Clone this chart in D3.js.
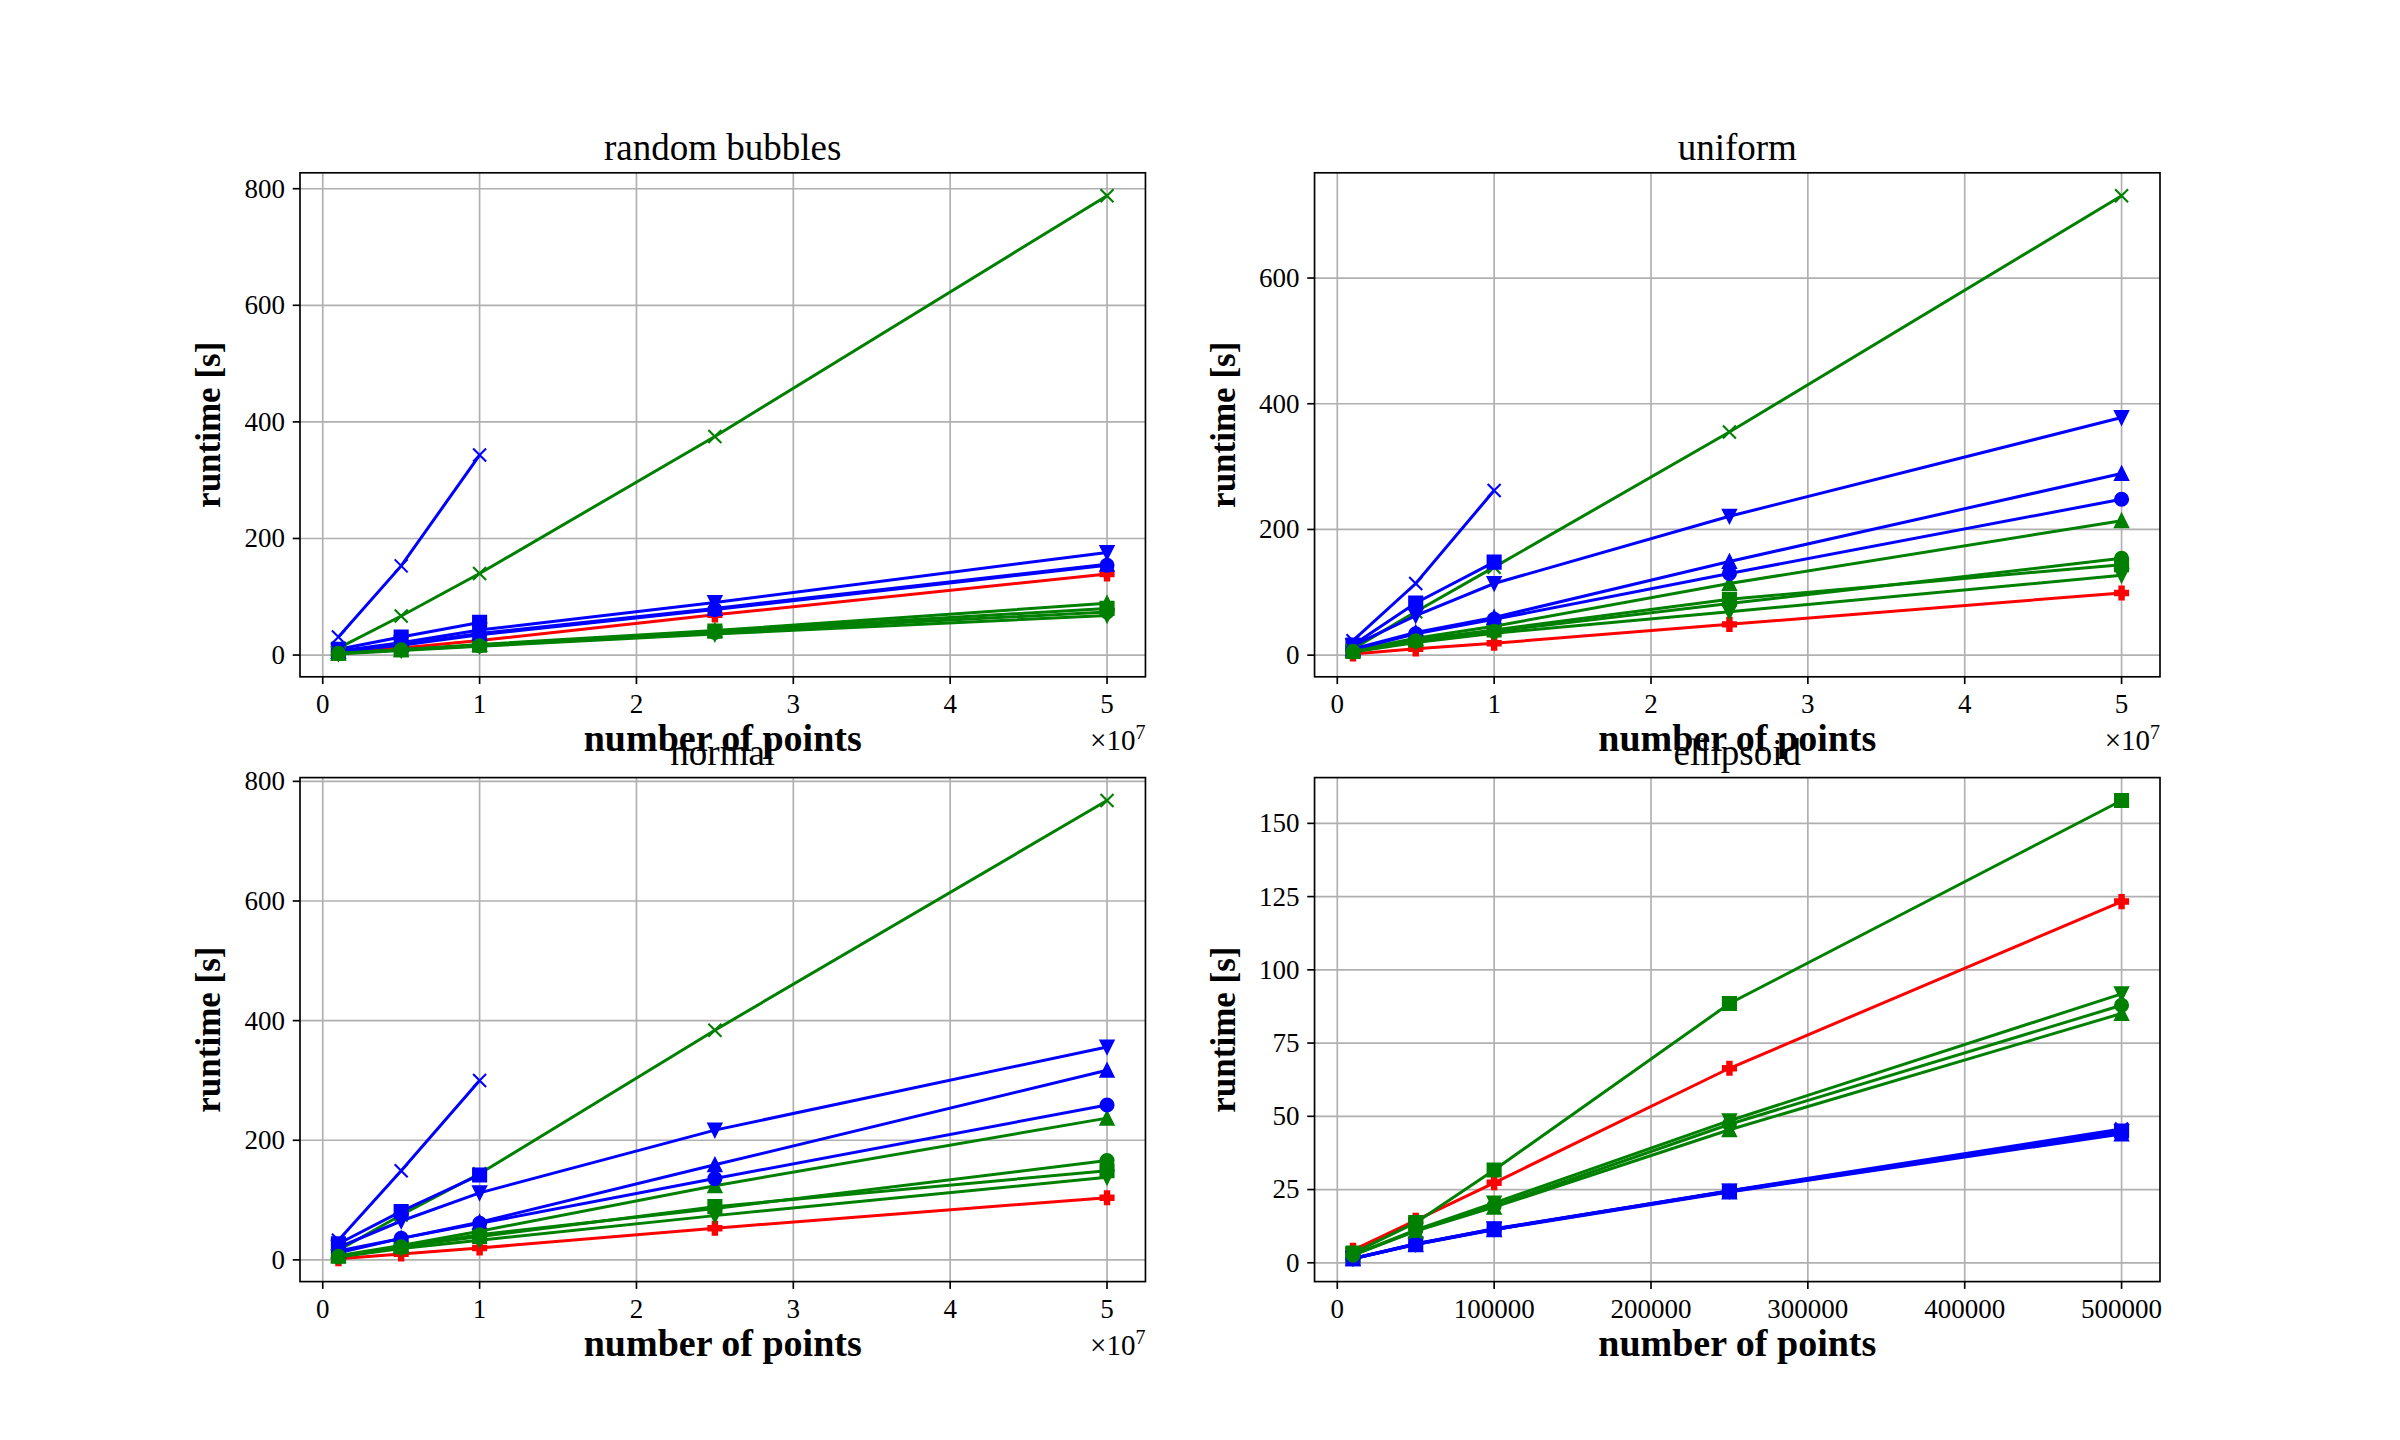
<!DOCTYPE html>
<html lang="en">
<head>
<meta charset="UTF-8">
<title>Runtime vs number of points</title>
<style>
  body { margin: 0; background: #fff; }
  svg { display: block; }
  text { font-family: 'Liberation Serif', 'Times New Roman', serif; fill: #000; }
  .tick-label { font-size: 27px; }
  .title { font-size: 37px; }
  .axis-label { font-size: 38px; font-weight: bold; }
  .y-label { font-size: 35px; font-weight: bold; }
</style>
</head>
<body>
<svg id="chart"></svg>
<script src="https://d3js.org/d3.v7.min.js"></script>
<script>
// x values (number of points)
const bigN = [1e6, 5e6, 1e7, 2.5e7, 5e7];
const smallN = [1e4, 5e4, 1e5, 2.5e5, 5e5];

const titles = ["random bubbles", "uniform", "normal", "ellipsoid"];

// series order (also the drawing order)
const seriesKeys = ["red", "blueX", "greenX", "blueS", "greenS", "blueV", "greenV", "blueUp", "greenUp", "blueO", "greenO"];
const seriesColor = ["#ff0000", "#0000ff", "#008000", "#0000ff", "#008000", "#0000ff", "#008000", "#0000ff", "#008000", "#0000ff", "#008000"];
const seriesMarker = ["P", "x", "x", "s", "s", "v", "v", "^", "^", "o", "o"];

// runtime [s], one row per series in seriesKeys order (null = no run)
const bubbles = [
  [3, 12, 25, 69, 139],
  [31, 153, 343],
  [12, 67, 140, 375, 788],
  [10, 31, 56],
  [3, 9, 17, 41, 80],
  [7, 21, 43, 90, 176],
  [2, 8, 15, 36, 68],
  [6, 18, 37, 80, 156],
  [3, 9, 18, 42, 89],
  [6, 17, 35, 78, 154],
  [3, 9, 16, 39, 74]
];
const uniform = [
  [2, 10, 19, 49, 99],
  [23, 114, 262],
  [10, 69, 140, 355, 731],
  [16, 83, 148],
  [6, 24, 40, 89, 144],
  [15, 63, 114, 221, 378],
  [5, 20, 35, 69, 127],
  [10, 36, 60, 149, 289],
  [7, 27, 46, 114, 214],
  [9, 34, 57, 130, 248],
  [6, 23, 38, 82, 154]
];
const normal = [
  [2, 10, 20, 53, 104],
  [33, 149, 300],
  [16, 75, 144, 384, 768],
  [27, 81, 142],
  [6, 22, 39, 89, 149],
  [21, 65, 112, 217, 356],
  [5, 19, 33, 74, 138],
  [15, 36, 63, 159, 317],
  [7, 24, 48, 124, 237],
  [12, 36, 61, 136, 259],
  [6, 22, 42, 86, 166]
];
const ellipsoid = [
  [4.3, 14.5, 27.3, 66.4, 123.3],
  [1.5, 6.5, 11.5, 24.6, 45.7],
  null,
  [1.4, 6.3, 11.4, 24.4, 45.0],
  [3.3, 13.7, 31.7, 88.5, 157.8],
  [1.5, 6.4, 11.6, 24.5, 44.8],
  [2.7, 11.2, 20.4, 48.5, 91.8],
  [1.4, 6.2, 11.3, 24.2, 44.0],
  [2.6, 10.8, 19.0, 45.4, 85.1],
  [1.4, 6.3, 11.4, 24.3, 44.5],
  [2.6, 11.0, 19.4, 47.3, 87.9]
];

// ticks
const bigTicks = [0, 1e7, 2e7, 3e7, 4e7, 5e7];
const smallTicks = [0, 1e5, 2e5, 3e5, 4e5, 5e5];
const yTicksBubbles = [0, 200, 400, 600, 800];
const yTicksUniform = [0, 200, 400, 600];
const yTicksNormal = [0, 200, 400, 600, 800];
const yTicksEllipsoid = [0, 25, 50, 75, 100, 125, 150];

const panels = [
  {title: titles[0], xs: bigN, rows: bubbles, xTicks: bigTicks, yTicks: yTicksBubbles, offset: true},
  {title: titles[1], xs: bigN, rows: uniform, xTicks: bigTicks, yTicks: yTicksUniform, offset: true},
  {title: titles[2], xs: bigN, rows: normal, xTicks: bigTicks, yTicks: yTicksNormal, offset: true},
  {title: titles[3], xs: smallN, rows: ellipsoid, xTicks: smallTicks, yTicks: yTicksEllipsoid, offset: false}
];

const W = 2400, H = 1440;
const axW = 0.775 * W / 2.2;
const axH = 0.77 * H / 2.2;
const lw = 1.67;      // spine / grid width
const ms = 13;        // marker size

const svg = d3.select("#chart").attr("width", W).attr("height", H);
svg.append("rect").attr("width", W).attr("height", H).attr("fill", "#fff");

function markerPath(m) {
  const r = ms / 2;
  const a = r / 3;
  if (m === "o") return `M${r},0A${r},${r} 0 1,1 ${-r},0A${r},${r} 0 1,1 ${r},0Z`;
  if (m === "s") return `M${-r},${-r}H${r}V${r}H${-r}Z`;
  if (m === "^") return `M0,${-r}L${r},${r}L${-r},${r}Z`;
  if (m === "v") return `M0,${r}L${r},${-r}L${-r},${-r}Z`;
  if (m === "x") return `M${-r},${-r}L${r},${r}M${-r},${r}L${r},${-r}`;
  // filled plus
  return `M${-a},${-r}H${a}V${-a}H${r}V${a}H${a}V${r}H${-a}V${a}H${-r}V${-a}H${-a}Z`;
}

function padded(lo, hi) {
  const d = (hi - lo) * 0.05;
  return [lo - d, hi + d];
}

panels.forEach((p, i) => {
  const col = i % 2, row = Math.floor(i / 2);
  const x0 = W * 0.125 + col * axW * 1.2;
  const y0 = H * 0.12 + row * axH * 1.2;

  const allY = p.rows.filter(r => r).flat();
  const x = d3.scaleLinear().domain(padded(d3.min(p.xs), d3.max(p.xs))).range([0, axW]);
  const y = d3.scaleLinear().domain(padded(d3.min(allY), d3.max(allY))).range([axH, 0]);

  const g = svg.append("g").attr("transform", `translate(${x0},${y0})`);

  // grid
  g.append("g").selectAll("line").data(p.xTicks).join("line")
    .attr("x1", d => x(d)).attr("x2", d => x(d))
    .attr("y1", 0).attr("y2", axH)
    .attr("stroke", "#b0b0b0").attr("stroke-width", lw);
  g.append("g").selectAll("line").data(p.yTicks).join("line")
    .attr("x1", 0).attr("x2", axW)
    .attr("y1", d => y(d)).attr("y2", d => y(d))
    .attr("stroke", "#b0b0b0").attr("stroke-width", lw);

  // series
  const line = d3.line().x(d => x(d[0])).y(d => y(d[1]));
  seriesKeys.forEach((k, s) => {
    const vals = p.rows[s];
    if (!vals) return;
    const pts = vals.map((v, j) => [p.xs[j], v]);
    const c = seriesColor[s];
    const mk = seriesMarker[s];
    const sg = g.append("g").attr("class", "series " + k);
    sg.append("path").attr("d", line(pts))
      .attr("fill", "none").attr("stroke", c).attr("stroke-width", 3);
    sg.selectAll("path.mk").data(pts).join("path").attr("class", "mk")
      .attr("transform", d => `translate(${x(d[0])},${y(d[1])})`)
      .attr("d", markerPath(mk))
      .attr("fill", mk === "x" ? "none" : c)
      .attr("stroke", c).attr("stroke-width", 2.1);
  });

  // spines
  g.append("rect").attr("width", axW).attr("height", axH)
    .attr("fill", "none").attr("stroke", "#000").attr("stroke-width", lw);

  // x axis ticks
  const xt = g.append("g").attr("transform", `translate(0,${axH})`);
  xt.selectAll("line").data(p.xTicks).join("line")
    .attr("x1", d => x(d)).attr("x2", d => x(d)).attr("y1", 0).attr("y2", 7.3)
    .attr("stroke", "#000").attr("stroke-width", lw);
  xt.selectAll("text").data(p.xTicks).join("text").attr("class", "tick-label")
    .attr("x", d => x(d)).attr("y", 36).attr("text-anchor", "middle")
    .text(d => p.offset ? d3.format("d")(d / 1e7) : d3.format("d")(d));

  // y axis ticks
  const yt = g.append("g");
  yt.selectAll("line").data(p.yTicks).join("line")
    .attr("x1", -7.3).attr("x2", 0).attr("y1", d => y(d)).attr("y2", d => y(d))
    .attr("stroke", "#000").attr("stroke-width", lw);
  yt.selectAll("text").data(p.yTicks).join("text").attr("class", "tick-label")
    .attr("x", -15).attr("y", d => y(d)).attr("dy", "0.33em").attr("text-anchor", "end")
    .text(d => d);

  // title and labels (bottom-row titles sit under the top-row x labels, as in the source)
  g.append("text").attr("class", "title")
    .attr("x", axW / 2).attr("y", -13).attr("text-anchor", "middle").text(p.title);
  g.append("text").attr("class", "axis-label")
    .attr("x", axW / 2).attr("y", axH + 74).attr("text-anchor", "middle").text("number of points");
  g.append("text").attr("class", "y-label")
    .attr("transform", `translate(-80,${axH / 2}) rotate(-90)`)
    .attr("text-anchor", "middle").text("runtime [s]");

  if (p.offset) {
    const o = g.append("text").attr("class", "tick-label")
      .attr("x", axW).attr("y", axH + 73).attr("text-anchor", "end");
    o.append("tspan").attr("font-size", 29).text("\u00d710");
    o.append("tspan").attr("dy", -11).attr("font-size", 20).text("7");
  }
});
</script>
</body>
</html>
